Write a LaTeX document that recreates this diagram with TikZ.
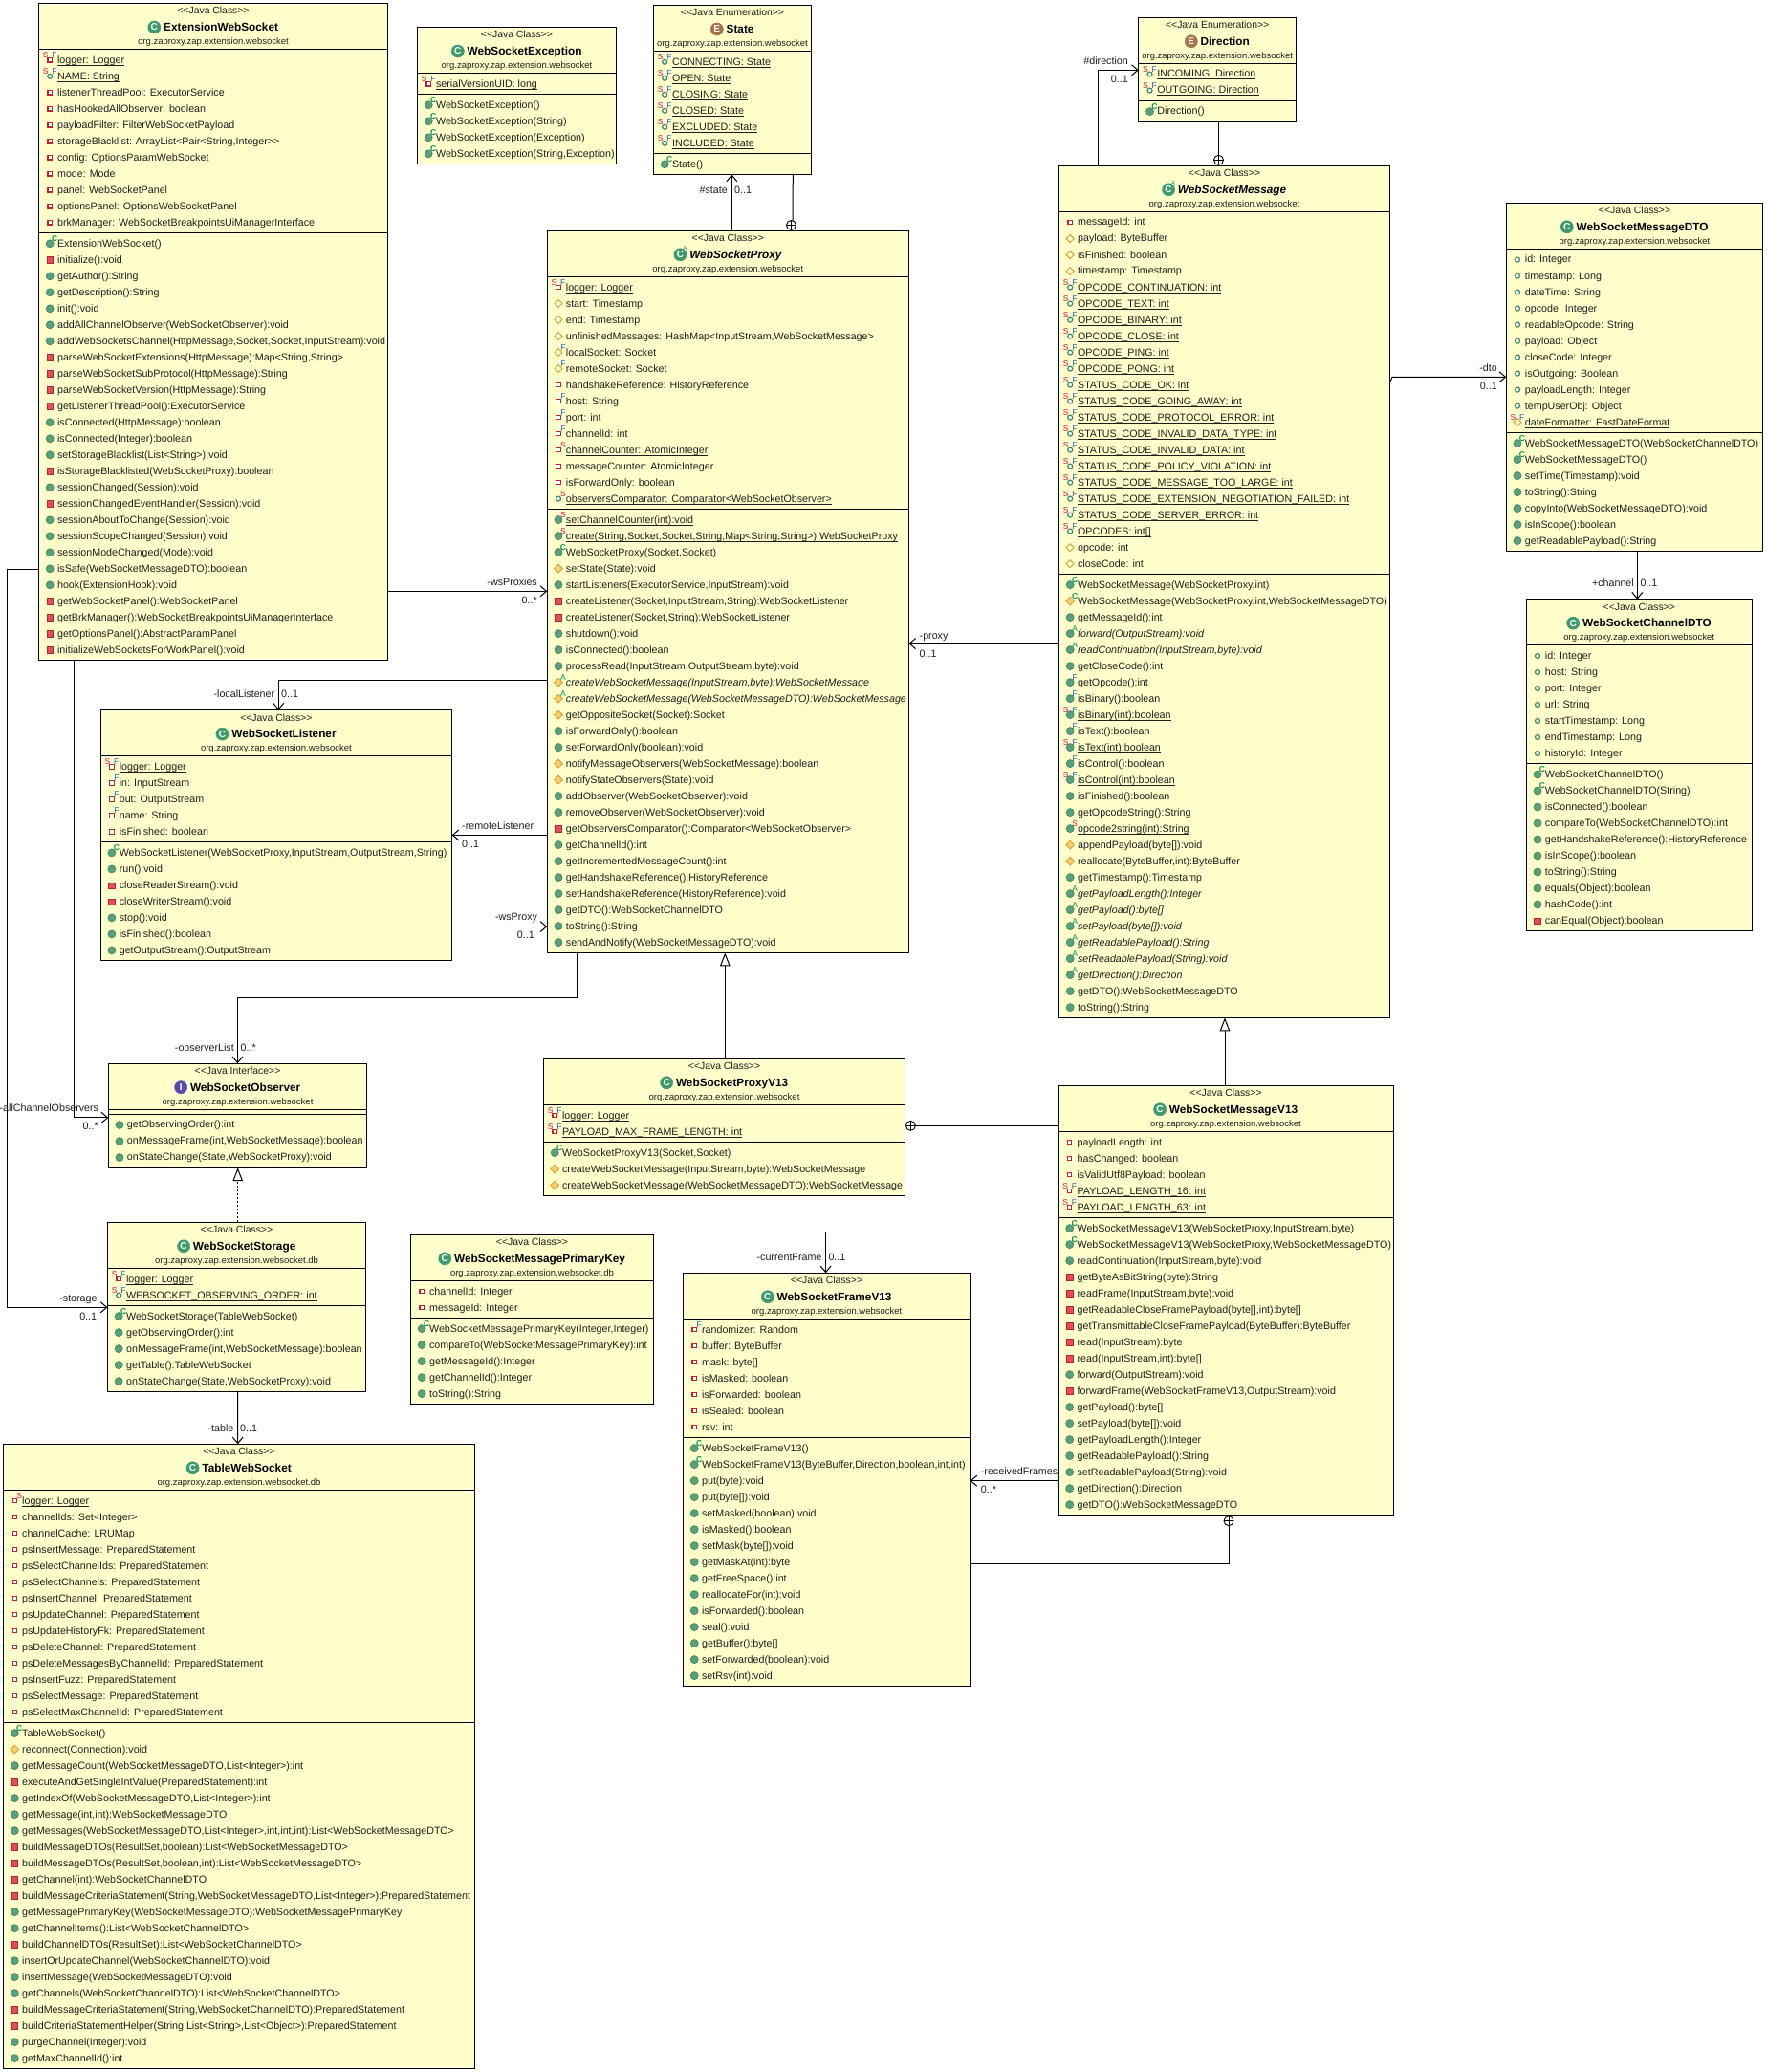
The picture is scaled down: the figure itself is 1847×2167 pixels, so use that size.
\documentclass[tikz,border=0pt]{standalone}
\usepackage{fontspec}
\newfontfamily\umlfont{Liberation Sans}
\usetikzlibrary{arrows.meta}
\definecolor{boxbg}{HTML}{FFFFCB}
\definecolor{inktxt}{HTML}{1E1E1E}
\definecolor{mgreen}{HTML}{5AA07C}
\definecolor{mgreend}{HTML}{3A8A66}
\definecolor{mred}{HTML}{E0505A}
\definecolor{mredd}{HTML}{C02035}
\definecolor{morange}{HTML}{F5CF70}
\definecolor{morangd}{HTML}{D8A030}
\definecolor{dgreen}{HTML}{00905A}
\definecolor{dblue}{HTML}{2060C0}
\definecolor{dred}{HTML}{D01050}
\definecolor{icbrown}{HTML}{A9714A}
\definecolor{icpurple}{HTML}{5A4AB0}
\definecolor{icgreen}{HTML}{3F9A70}
\tikzset{
  classbox/.style={draw=black,fill=boxbg,line width=1pt,inner sep=0pt,outer sep=0pt,anchor=north west,rectangle},
  sepline/.style={draw=black,line width=1pt},
  rowtxt/.style={inner sep=0pt,outer sep=0pt,anchor=base west,text=inktxt,font=\umlfont\fontsize{10.7pt}{12pt}\selectfont},
  stereotxt/.style={inner sep=0pt,anchor=base,text=inktxt,font=\umlfont\fontsize{10.4pt}{12pt}\selectfont},
  titletxt/.style={inner sep=0pt,anchor=base,text=black,font=\umlfont\bfseries\fontsize{11.8pt}{13pt}\selectfont},
  pkgtxt/.style={inner sep=0pt,anchor=base,text=inktxt,font=\umlfont\fontsize{9.5pt}{11pt}\selectfont},
  deco/.style={inner sep=0pt,anchor=center,font=\umlfont\fontsize{8.5pt}{9pt}\selectfont},
  icl/.style={inner sep=0pt,anchor=center,text=white,font=\umlfont\bfseries\fontsize{10pt}{10pt}\selectfont},
  lbe/.style={inner sep=0pt,anchor=base east,text=inktxt,font=\umlfont\fontsize{10.7pt}{12pt}\selectfont},
  lbw/.style={inner sep=0pt,anchor=base west,text=inktxt,font=\umlfont\fontsize{10.7pt}{12pt}\selectfont},
  assoc/.style={draw=black,line width=1pt,-{Straight Barb[length=6.5pt,width=11pt,line width=1pt]}},
  plainc/.style={draw=black,line width=1pt},
  gener/.style={draw=black,line width=1pt,-{Triangle[open,length=14pt,width=10.5pt,fill=white,line width=1pt]}},
  realiz/.style={draw=black,line width=.8pt,dash pattern=on 2pt off 2pt,-{Triangle[open,length=14pt,width=10.5pt,fill=white,line width=1pt]}},
  nestc/.style={circle,draw=black,fill=white,line width=.9pt,minimum size=10pt,inner sep=0pt,outer sep=0pt},
}
\newcount\nnc
\newcommand\ulx[1]{\setbox0=\hbox{#1}\rlap{\rule[-2.4pt]{\wd0}{.9pt}}\box0 }
% field / method icons
\newcommand\icfr{\filldraw[draw=mredd,fill=white,line width=1.1pt] (\ix-2.2,\iy-2.2) rectangle (\ix+2.2,\iy+2.2);}
\newcommand\icfg{\filldraw[draw=mgreend,fill=white,line width=1.2pt] (\ix,\iy) circle[radius=2.5pt];}
\newcommand\icfo{\filldraw[draw=morangd,fill=boxbg,line width=.9pt] (\ix-4,\iy) -- (\ix,\iy-4) -- (\ix+4,\iy) -- (\ix,\iy+4) -- cycle;}
\newcommand\icmg{\filldraw[draw=mgreend,fill=mgreen,line width=.7pt] (\ix,\iy) circle[radius=4pt];}
\newcommand\icmr{\filldraw[draw=mredd,fill=mred,line width=.8pt] (\ix-3.2,\iy-3) rectangle (\ix+3.2,\iy+3.4);}
\newcommand\icmo{\filldraw[draw=morangd,fill=morange,line width=.8pt] (\ix-4.4,\iy) -- (\ix,\iy-4.4) -- (\ix+4.4,\iy) -- (\ix,\iy+4.4) -- cycle;}
\newcommand\dclet[4]{\global\advance\nnc 1 \node[deco,text=#3] (dc\the\nnc) at (\ix+#1,\iy+#2) {#4};}
\newcommand\dcn{}
\newcommand\dcS{\dclet{5}{-5}{dred}{S}}
\newcommand\dcF{\dclet{5}{-5.5}{dblue}{F}}
\newcommand\dcSF{\dclet{-4.5}{-5.5}{dred}{S}\dclet{4.7}{-5.5}{dblue}{F}}
\newcommand\dcC{\dclet{5}{-5.5}{dgreen}{\bfseries C}}
\newcommand\dcA{\dclet{5}{-5.5}{dgreen}{A}}
\newcommand\txn[1]{#1}
\newcommand\txC[1]{#1}
\newcommand\txF[1]{#1}
\newcommand\txS[1]{\ulx{#1}}
\newcommand\txSF[1]{\ulx{#1}}
\newcommand\txA[1]{{\itshape #1}}
\newcommand\umlbox[6]{%
  \edef\curid{#1}%
  \pgfmathsetmacro\curx{#2}\pgfmathsetmacro\cury{#3}\pgfmathsetmacro\curw{#4}%
  \pgfmathsetmacro\boxh{58+(#5+#6)*17}%
  \node[classbox,minimum width=#4pt,minimum height=\boxh pt] (#1) at (#2,#3) {};}
\newcommand\umlhead[4]{%
  \pgfmathsetmacro\cx{\curx+\curw/2}%
  \node[stereotxt] (\curid-s) at (\cx,\cury+11.4) {<{}<#1>{}>};
  \node[titletxt] (\curid-t) at (\cx,\cury+29) {\hspace*{16.2pt}\csname tt#2\endcsname{#3}};
  \begin{scope}[shift={(\curid-t.base west)}]
    \csname cl#2\endcsname
  \end{scope}
  \node[pkgtxt] (\curid-p) at (\cx,\cury+43) {#4};
  \draw[sepline] (\curx,\cury+48) -- (\curx+\curw,\cury+48);
  \pgfmathsetmacro\rowY{\cury+58.5}}
\newcommand\ttC[1]{#1}
\newcommand\ttE[1]{#1}
\newcommand\ttI[1]{#1}
\newcommand\ttCA[1]{{\itshape #1}}
\newcommand\clbub[2]{\filldraw[draw=#1,fill=#1,line width=.4pt] (6.5,-4) circle[radius=6.6pt];
  \global\advance\nnc 1 \node[icl] (ic\the\nnc) at (6.5,-4) {#2};}
\newcommand\clC{\clbub{icgreen}{C}}
\newcommand\clE{\clbub{icbrown}{E}}
\newcommand\clI{\clbub{icpurple}{I}}
\newcommand\clCA{\clbub{icgreen}{C}\global\advance\nnc 1 \node[deco,text=dgreen,font=\umlfont\fontsize{6pt}{6pt}\selectfont] (ic\the\nnc) at (11.5,-11) {A};}
\newcommand\R[3]{%
  \pgfmathsetmacro\ix{\curx+11.7}\pgfmathsetmacro\iy{\rowY+.8}%
  \csname ic#1\endcsname \csname dc#2\endcsname
  \global\advance\nnc 1
  \node[rowtxt] (r\the\nnc) at (\curx+19.6,\rowY+4.2) {\csname tx#2\endcsname{#3}};
  \pgfmathsetmacro\rowY{\rowY+17}}
\newcommand\Sep{%
  \pgfmathsetmacro\sy{\rowY-5.5}%
  \draw[sepline] (\curx,\sy) -- (\curx+\curw,\sy);
  \pgfmathsetmacro\rowY{\rowY+5}}
\newcommand\labE[3]{\global\advance\nnc 1 \node[lbe] (l\the\nnc) at (#1,#2+4) {#3};}
\newcommand\labW[3]{\global\advance\nnc 1 \node[lbw] (l\the\nnc) at (#1,#2+4) {#3};}
\newcommand\nestmark[3]{\node[nestc] (#1) at (#2,#3) {};
  \draw[line width=.8pt] (#1.north) -- (#1.south) (#1.west) -- (#1.east);}
\begin{document}
\begin{tikzpicture}[x=1pt,y=-1pt]
\useasboundingbox (0,0) rectangle (1847,2167);
\fill[white] (0,0) rectangle (1847,2167);
% ------------------------------ ExtensionWebSocket
\umlbox{ext}{40.5}{3.5}{365}{11}{26}
\umlhead{Java Class}{C}{ExtensionWebSocket}{org.zaproxy.zap.extension.websocket}
\R{fr}{SF}{logger: Logger}
\R{fg}{SF}{NAME: String}
\R{fr}{n}{listenerThreadPool: ExecutorService}
\R{fr}{n}{hasHookedAllObserver: boolean}
\R{fr}{n}{payloadFilter: FilterWebSocketPayload}
\R{fr}{n}{storageBlacklist: ArrayList<Pair<String,Integer>>}
\R{fr}{n}{config: OptionsParamWebSocket}
\R{fr}{n}{mode: Mode}
\R{fr}{n}{panel: WebSocketPanel}
\R{fr}{n}{optionsPanel: OptionsWebSocketPanel}
\R{fr}{n}{brkManager: WebSocketBreakpointsUiManagerInterface}
\Sep
\R{mg}{C}{ExtensionWebSocket()}
\R{mr}{n}{initialize():void}
\R{mg}{n}{getAuthor():String}
\R{mg}{n}{getDescription():String}
\R{mg}{n}{init():void}
\R{mg}{n}{addAllChannelObserver(WebSocketObserver):void}
\R{mg}{n}{addWebSocketsChannel(HttpMessage,Socket,Socket,InputStream):void}
\R{mr}{n}{parseWebSocketExtensions(HttpMessage):Map<String,String>}
\R{mr}{n}{parseWebSocketSubProtocol(HttpMessage):String}
\R{mr}{n}{parseWebSocketVersion(HttpMessage):String}
\R{mr}{n}{getListenerThreadPool():ExecutorService}
\R{mg}{n}{isConnected(HttpMessage):boolean}
\R{mg}{n}{isConnected(Integer):boolean}
\R{mg}{n}{setStorageBlacklist(List<String>):void}
\R{mr}{n}{isStorageBlacklisted(WebSocketProxy):boolean}
\R{mg}{n}{sessionChanged(Session):void}
\R{mr}{n}{sessionChangedEventHandler(Session):void}
\R{mg}{n}{sessionAboutToChange(Session):void}
\R{mg}{n}{sessionScopeChanged(Session):void}
\R{mg}{n}{sessionModeChanged(Mode):void}
\R{mg}{n}{isSafe(WebSocketMessageDTO):boolean}
\R{mg}{n}{hook(ExtensionHook):void}
\R{mr}{n}{getWebSocketPanel():WebSocketPanel}
\R{mr}{n}{getBrkManager():WebSocketBreakpointsUiManagerInterface}
\R{mr}{n}{getOptionsPanel():AbstractParamPanel}
\R{mr}{n}{initializeWebSocketsForWorkPanel():void}
% ------------------------------ WebSocketException
\umlbox{exc}{436.5}{28.5}{208}{1}{4}
\umlhead{Java Class}{C}{WebSocketException}{org.zaproxy.zap.extension.websocket}
\R{fr}{SF}{serialVersionUID: long}
\Sep
\R{mg}{C}{WebSocketException()}
\R{mg}{C}{WebSocketException(String)}
\R{mg}{C}{WebSocketException(Exception)}
\R{mg}{C}{WebSocketException(String,Exception)}
% ------------------------------ State
\umlbox{state}{683.5}{5.5}{165}{6}{1}
\umlhead{Java Enumeration}{E}{State}{org.zaproxy.zap.extension.websocket}
\R{fg}{SF}{CONNECTING: State}
\R{fg}{SF}{OPEN: State}
\R{fg}{SF}{CLOSING: State}
\R{fg}{SF}{CLOSED: State}
\R{fg}{SF}{EXCLUDED: State}
\R{fg}{SF}{INCLUDED: State}
\Sep
\R{mg}{C}{State()}
% ------------------------------ Direction
\umlbox{dir}{1190.8}{18.3}{164.7}{2}{1}
\umlhead{Java Enumeration}{E}{Direction}{org.zaproxy.zap.extension.websocket}
\R{fg}{SF}{INCOMING: Direction}
\R{fg}{SF}{OUTGOING: Direction}
\Sep
\R{mg}{C}{Direction()}
% ------------------------------ WebSocketProxy
\umlbox{proxy}{572.3}{241.3}{378}{14}{27}
\umlhead{Java Class}{CA}{WebSocketProxy}{org.zaproxy.zap.extension.websocket}
\R{fr}{SF}{logger: Logger}
\R{fo}{n}{start: Timestamp}
\R{fo}{n}{end: Timestamp}
\R{fo}{n}{unfinishedMessages: HashMap<InputStream,WebSocketMessage>}
\R{fo}{F}{localSocket: Socket}
\R{fo}{F}{remoteSocket: Socket}
\R{fr}{n}{handshakeReference: HistoryReference}
\R{fr}{F}{host: String}
\R{fr}{F}{port: int}
\R{fr}{F}{channelId: int}
\R{fr}{S}{channelCounter: AtomicInteger}
\R{fr}{n}{messageCounter: AtomicInteger}
\R{fr}{n}{isForwardOnly: boolean}
\R{fg}{S}{observersComparator: Comparator<WebSocketObserver>}
\Sep
\R{mg}{S}{setChannelCounter(int):void}
\R{mg}{S}{create(String,Socket,Socket,String,Map<String,String>):WebSocketProxy}
\R{mg}{C}{WebSocketProxy(Socket,Socket)}
\R{mo}{n}{setState(State):void}
\R{mg}{n}{startListeners(ExecutorService,InputStream):void}
\R{mr}{n}{createListener(Socket,InputStream,String):WebSocketListener}
\R{mr}{n}{createListener(Socket,String):WebSocketListener}
\R{mg}{n}{shutdown():void}
\R{mg}{n}{isConnected():boolean}
\R{mg}{n}{processRead(InputStream,OutputStream,byte):void}
\R{mo}{A}{createWebSocketMessage(InputStream,byte):WebSocketMessage}
\R{mo}{A}{createWebSocketMessage(WebSocketMessageDTO):WebSocketMessage}
\R{mo}{n}{getOppositeSocket(Socket):Socket}
\R{mg}{n}{isForwardOnly():boolean}
\R{mg}{n}{setForwardOnly(boolean):void}
\R{mo}{n}{notifyMessageObservers(WebSocketMessage):boolean}
\R{mo}{n}{notifyStateObservers(State):void}
\R{mg}{n}{addObserver(WebSocketObserver):void}
\R{mg}{n}{removeObserver(WebSocketObserver):void}
\R{mr}{n}{getObserversComparator():Comparator<WebSocketObserver>}
\R{mg}{n}{getChannelId():int}
\R{mg}{n}{getIncrementedMessageCount():int}
\R{mg}{n}{getHandshakeReference():HistoryReference}
\R{mg}{n}{setHandshakeReference(HistoryReference):void}
\R{mg}{n}{getDTO():WebSocketChannelDTO}
\R{mg}{n}{toString():String}
\R{mg}{n}{sendAndNotify(WebSocketMessageDTO):void}
% ------------------------------ WebSocketMessage
\umlbox{msg}{1107.5}{173.3}{346}{22}{27}
\umlhead{Java Class}{CA}{WebSocketMessage}{org.zaproxy.zap.extension.websocket}
\R{fr}{n}{messageId: int}
\R{fo}{n}{payload: ByteBuffer}
\R{fo}{n}{isFinished: boolean}
\R{fo}{n}{timestamp: Timestamp}
\R{fg}{SF}{OPCODE\_CONTINUATION: int}
\R{fg}{SF}{OPCODE\_TEXT: int}
\R{fg}{SF}{OPCODE\_BINARY: int}
\R{fg}{SF}{OPCODE\_CLOSE: int}
\R{fg}{SF}{OPCODE\_PING: int}
\R{fg}{SF}{OPCODE\_PONG: int}
\R{fg}{SF}{STATUS\_CODE\_OK: int}
\R{fg}{SF}{STATUS\_CODE\_GOING\_AWAY: int}
\R{fg}{SF}{STATUS\_CODE\_PROTOCOL\_ERROR: int}
\R{fg}{SF}{STATUS\_CODE\_INVALID\_DATA\_TYPE: int}
\R{fg}{SF}{STATUS\_CODE\_INVALID\_DATA: int}
\R{fg}{SF}{STATUS\_CODE\_POLICY\_VIOLATION: int}
\R{fg}{SF}{STATUS\_CODE\_MESSAGE\_TOO\_LARGE: int}
\R{fg}{SF}{STATUS\_CODE\_EXTENSION\_NEGOTIATION\_FAILED: int}
\R{fg}{SF}{STATUS\_CODE\_SERVER\_ERROR: int}
\R{fg}{SF}{OPCODES: int[]}
\R{fo}{n}{opcode: int}
\R{fo}{n}{closeCode: int}
\Sep
\R{mg}{C}{WebSocketMessage(WebSocketProxy,int)}
\R{mo}{C}{WebSocketMessage(WebSocketProxy,int,WebSocketMessageDTO)}
\R{mg}{n}{getMessageId():int}
\R{mg}{A}{forward(OutputStream):void}
\R{mg}{A}{readContinuation(InputStream,byte):void}
\R{mg}{n}{getCloseCode():int}
\R{mg}{F}{getOpcode():int}
\R{mg}{F}{isBinary():boolean}
\R{mg}{SF}{isBinary(int):boolean}
\R{mg}{F}{isText():boolean}
\R{mg}{SF}{isText(int):boolean}
\R{mg}{F}{isControl():boolean}
\R{mg}{SF}{isControl(int):boolean}
\R{mg}{n}{isFinished():boolean}
\R{mg}{n}{getOpcodeString():String}
\R{mg}{S}{opcode2string(int):String}
\R{mo}{n}{appendPayload(byte[]):void}
\R{mo}{n}{reallocate(ByteBuffer,int):ByteBuffer}
\R{mg}{n}{getTimestamp():Timestamp}
\R{mg}{A}{getPayloadLength():Integer}
\R{mg}{A}{getPayload():byte[]}
\R{mg}{A}{setPayload(byte[]):void}
\R{mg}{A}{getReadablePayload():String}
\R{mg}{A}{setReadablePayload(String):void}
\R{mg}{A}{getDirection():Direction}
\R{mg}{n}{getDTO():WebSocketMessageDTO}
\R{mg}{n}{toString():String}
% ------------------------------ WebSocketMessageDTO
\umlbox{dto}{1575.3}{212.3}{268.4}{11}{7}
\umlhead{Java Class}{C}{WebSocketMessageDTO}{org.zaproxy.zap.extension.websocket}
\R{fg}{n}{id: Integer}
\R{fg}{n}{timestamp: Long}
\R{fg}{n}{dateTime: String}
\R{fg}{n}{opcode: Integer}
\R{fg}{n}{readableOpcode: String}
\R{fg}{n}{payload: Object}
\R{fg}{n}{closeCode: Integer}
\R{fg}{n}{isOutgoing: Boolean}
\R{fg}{n}{payloadLength: Integer}
\R{fg}{n}{tempUserObj: Object}
\R{fo}{SF}{dateFormatter: FastDateFormat}
\Sep
\R{mg}{C}{WebSocketMessageDTO(WebSocketChannelDTO)}
\R{mg}{C}{WebSocketMessageDTO()}
\R{mg}{n}{setTime(Timestamp):void}
\R{mg}{n}{toString():String}
\R{mg}{n}{copyInto(WebSocketMessageDTO):void}
\R{mg}{n}{isInScope():boolean}
\R{mg}{n}{getReadablePayload():String}
% ------------------------------ WebSocketChannelDTO
\umlbox{chan}{1596.3}{626.7}{236}{7}{10}
\umlhead{Java Class}{C}{WebSocketChannelDTO}{org.zaproxy.zap.extension.websocket}
\R{fg}{n}{id: Integer}
\R{fg}{n}{host: String}
\R{fg}{n}{port: Integer}
\R{fg}{n}{url: String}
\R{fg}{n}{startTimestamp: Long}
\R{fg}{n}{endTimestamp: Long}
\R{fg}{n}{historyId: Integer}
\Sep
\R{mg}{C}{WebSocketChannelDTO()}
\R{mg}{C}{WebSocketChannelDTO(String)}
\R{mg}{n}{isConnected():boolean}
\R{mg}{n}{compareTo(WebSocketChannelDTO):int}
\R{mg}{n}{getHandshakeReference():HistoryReference}
\R{mg}{n}{isInScope():boolean}
\R{mg}{n}{toString():String}
\R{mg}{n}{equals(Object):boolean}
\R{mg}{n}{hashCode():int}
\R{mr}{n}{canEqual(Object):boolean}
% ------------------------------ WebSocketListener
\umlbox{listener}{105.2}{742.6}{367.4}{5}{7}
\umlhead{Java Class}{C}{WebSocketListener}{org.zaproxy.zap.extension.websocket}
\R{fr}{SF}{logger: Logger}
\R{fr}{F}{in: InputStream}
\R{fr}{F}{out: OutputStream}
\R{fr}{F}{name: String}
\R{fr}{n}{isFinished: boolean}
\Sep
\R{mg}{C}{WebSocketListener(WebSocketProxy,InputStream,OutputStream,String)}
\R{mg}{n}{run():void}
\R{mr}{n}{closeReaderStream():void}
\R{mr}{n}{closeWriterStream():void}
\R{mg}{n}{stop():void}
\R{mg}{n}{isFinished():boolean}
\R{mg}{n}{getOutputStream():OutputStream}
% ------------------------------ WebSocketObserver
\umlbox{observer}{113.3}{1112.2}{270.5}{0}{3}
\umlhead{Java Interface}{I}{WebSocketObserver}{org.zaproxy.zap.extension.websocket}
\Sep
\R{mg}{n}{getObservingOrder():int}
\R{mg}{n}{onMessageFrame(int,WebSocketMessage):boolean}
\R{mg}{n}{onStateChange(State,WebSocketProxy):void}
% ------------------------------ WebSocketStorage
\umlbox{storage}{112.5}{1278.3}{270.1}{2}{5}
\umlhead{Java Class}{C}{WebSocketStorage}{org.zaproxy.zap.extension.websocket.db}
\R{fr}{SF}{logger: Logger}
\R{fg}{SF}{WEBSOCKET\_OBSERVING\_ORDER: int}
\Sep
\R{mg}{C}{WebSocketStorage(TableWebSocket)}
\R{mg}{n}{getObservingOrder():int}
\R{mg}{n}{onMessageFrame(int,WebSocketMessage):boolean}
\R{mg}{n}{getTable():TableWebSocket}
\R{mg}{n}{onStateChange(State,WebSocketProxy):void}
% ------------------------------ WebSocketMessagePrimaryKey
\umlbox{pk}{429.5}{1291.3}{254}{2}{5}
\umlhead{Java Class}{C}{WebSocketMessagePrimaryKey}{org.zaproxy.zap.extension.websocket.db}
\R{fr}{n}{channelId: Integer}
\R{fr}{n}{messageId: Integer}
\Sep
\R{mg}{C}{WebSocketMessagePrimaryKey(Integer,Integer)}
\R{mg}{n}{compareTo(WebSocketMessagePrimaryKey):int}
\R{mg}{n}{getMessageId():Integer}
\R{mg}{n}{getChannelId():Integer}
\R{mg}{n}{toString():String}
% ------------------------------ TableWebSocket
\umlbox{table}{3.6}{1510.3}{492.8}{14}{21}
\umlhead{Java Class}{C}{TableWebSocket}{org.zaproxy.zap.extension.websocket.db}
\R{fr}{S}{logger: Logger}
\R{fr}{n}{channelIds: Set<Integer>}
\R{fr}{n}{channelCache: LRUMap}
\R{fr}{n}{psInsertMessage: PreparedStatement}
\R{fr}{n}{psSelectChannelIds: PreparedStatement}
\R{fr}{n}{psSelectChannels: PreparedStatement}
\R{fr}{n}{psInsertChannel: PreparedStatement}
\R{fr}{n}{psUpdateChannel: PreparedStatement}
\R{fr}{n}{psUpdateHistoryFk: PreparedStatement}
\R{fr}{n}{psDeleteChannel: PreparedStatement}
\R{fr}{n}{psDeleteMessagesByChannelId: PreparedStatement}
\R{fr}{n}{psInsertFuzz: PreparedStatement}
\R{fr}{n}{psSelectMessage: PreparedStatement}
\R{fr}{n}{psSelectMaxChannelId: PreparedStatement}
\Sep
\R{mg}{C}{TableWebSocket()}
\R{mo}{n}{reconnect(Connection):void}
\R{mg}{n}{getMessageCount(WebSocketMessageDTO,List<Integer>):int}
\R{mr}{n}{executeAndGetSingleIntValue(PreparedStatement):int}
\R{mg}{n}{getIndexOf(WebSocketMessageDTO,List<Integer>):int}
\R{mg}{n}{getMessage(int,int):WebSocketMessageDTO}
\R{mg}{n}{getMessages(WebSocketMessageDTO,List<Integer>,int,int,int):List<WebSocketMessageDTO>}
\R{mr}{n}{buildMessageDTOs(ResultSet,boolean):List<WebSocketMessageDTO>}
\R{mr}{n}{buildMessageDTOs(ResultSet,boolean,int):List<WebSocketMessageDTO>}
\R{mr}{n}{getChannel(int):WebSocketChannelDTO}
\R{mr}{n}{buildMessageCriteriaStatement(String,WebSocketMessageDTO,List<Integer>):PreparedStatement}
\R{mg}{n}{getMessagePrimaryKey(WebSocketMessageDTO):WebSocketMessagePrimaryKey}
\R{mg}{n}{getChannelItems():List<WebSocketChannelDTO>}
\R{mr}{n}{buildChannelDTOs(ResultSet):List<WebSocketChannelDTO>}
\R{mg}{n}{insertOrUpdateChannel(WebSocketChannelDTO):void}
\R{mg}{n}{insertMessage(WebSocketMessageDTO):void}
\R{mg}{n}{getChannels(WebSocketChannelDTO):List<WebSocketChannelDTO>}
\R{mr}{n}{buildMessageCriteriaStatement(String,WebSocketChannelDTO):PreparedStatement}
\R{mr}{n}{buildCriteriaStatementHelper(String,List<String>,List<Object>):PreparedStatement}
\R{mg}{n}{purgeChannel(Integer):void}
\R{mg}{n}{getMaxChannelId():int}
% ------------------------------ WebSocketProxyV13
\umlbox{proxyv}{568.5}{1107.3}{378.1}{2}{3}
\umlhead{Java Class}{C}{WebSocketProxyV13}{org.zaproxy.zap.extension.websocket}
\R{fr}{SF}{logger: Logger}
\R{fr}{SF}{PAYLOAD\_MAX\_FRAME\_LENGTH: int}
\Sep
\R{mg}{C}{WebSocketProxyV13(Socket,Socket)}
\R{mo}{n}{createWebSocketMessage(InputStream,byte):WebSocketMessage}
\R{mo}{n}{createWebSocketMessage(WebSocketMessageDTO):WebSocketMessage}
% ------------------------------ WebSocketMessageV13
\umlbox{v13}{1107}{1135.3}{350}{5}{18}
\umlhead{Java Class}{C}{WebSocketMessageV13}{org.zaproxy.zap.extension.websocket}
\R{fr}{n}{payloadLength: int}
\R{fr}{n}{hasChanged: boolean}
\R{fr}{n}{isValidUtf8Payload: boolean}
\R{fr}{SF}{PAYLOAD\_LENGTH\_16: int}
\R{fr}{SF}{PAYLOAD\_LENGTH\_63: int}
\Sep
\R{mg}{C}{WebSocketMessageV13(WebSocketProxy,InputStream,byte)}
\R{mg}{C}{WebSocketMessageV13(WebSocketProxy,WebSocketMessageDTO)}
\R{mg}{n}{readContinuation(InputStream,byte):void}
\R{mr}{n}{getByteAsBitString(byte):String}
\R{mr}{n}{readFrame(InputStream,byte):void}
\R{mr}{n}{getReadableCloseFramePayload(byte[],int):byte[]}
\R{mr}{n}{getTransmittableCloseFramePayload(ByteBuffer):ByteBuffer}
\R{mr}{n}{read(InputStream):byte}
\R{mr}{n}{read(InputStream,int):byte[]}
\R{mg}{n}{forward(OutputStream):void}
\R{mr}{n}{forwardFrame(WebSocketFrameV13,OutputStream):void}
\R{mg}{n}{getPayload():byte[]}
\R{mg}{n}{setPayload(byte[]):void}
\R{mg}{n}{getPayloadLength():Integer}
\R{mg}{n}{getReadablePayload():String}
\R{mg}{n}{setReadablePayload(String):void}
\R{mg}{n}{getDirection():Direction}
\R{mg}{n}{getDTO():WebSocketMessageDTO}
% ------------------------------ WebSocketFrameV13
\umlbox{frame}{714.5}{1331.3}{300}{7}{15}
\umlhead{Java Class}{C}{WebSocketFrameV13}{org.zaproxy.zap.extension.websocket}
\R{fr}{F}{randomizer: Random}
\R{fr}{n}{buffer: ByteBuffer}
\R{fr}{n}{mask: byte[]}
\R{fr}{n}{isMasked: boolean}
\R{fr}{n}{isForwarded: boolean}
\R{fr}{n}{isSealed: boolean}
\R{fr}{n}{rsv: int}
\Sep
\R{mg}{C}{WebSocketFrameV13()}
\R{mg}{C}{WebSocketFrameV13(ByteBuffer,Direction,boolean,int,int)}
\R{mg}{n}{put(byte):void}
\R{mg}{n}{put(byte[]):void}
\R{mg}{n}{setMasked(boolean):void}
\R{mg}{n}{isMasked():boolean}
\R{mg}{n}{setMask(byte[]):void}
\R{mg}{n}{getMaskAt(int):byte}
\R{mg}{n}{getFreeSpace():int}
\R{mg}{n}{reallocateFor(int):void}
\R{mg}{n}{isForwarded():boolean}
\R{mg}{n}{seal():void}
\R{mg}{n}{getBuffer():byte[]}
\R{mg}{n}{setForwarded(boolean):void}
\R{mg}{n}{setRsv(int):void}
% ------------------------------ nesting marks
\nestmark{nestA}{827.5}{235.5}
\nestmark{nestB}{1274.5}{167.3}
\nestmark{nestC}{952.4}{1177.3}
\nestmark{nestD}{1285}{1590.7}
% ------------------------------ connectors
\draw[assoc] ([shift={(193,0)}]proxy.north west) -- ([shift={(81.8,0)}]state.south west);
\draw[plainc] ([shift={(145.8,0)}]state.south west) -- ([xshift=1.5pt]nestA.north);
\draw[plainc] ([shift={(83.7,0)}]dir.south west) -- (nestB.north);
\draw[assoc] ([shift={(41.3,0)}]msg.north west) |- ([shift={(0,55)}]dir.north west);
\draw[assoc] ([shift={(0,226.7)}]msg.north east) -- ++(2.5,-5.7) -- ([shift={(0,182)}]dto.north west);
\draw[assoc] ([shift={(137,0)}]dto.south west) -- ([shift={(116,0)}]chan.north west);
\draw[assoc] ([shift={(0,499.8)}]msg.north west) -- ([shift={(0,431.8)}]proxy.north east);
\draw[assoc] ([shift={(0,614.8)}]ext.north east) -- ([shift={(0,377)}]proxy.north west);
\draw[assoc] ([shift={(0,591.8)}]ext.north west) -- ++(-33.2,0) |- ([shift={(0,89)}]storage.north west);
\draw[assoc] ([shift={(37.2,0)}]ext.south west) |- ([shift={(0,56.7)}]observer.north west);
\draw[assoc] ([shift={(0,470.3)}]proxy.north west) -| ([shift={(186,0)}]listener.north west);
\draw[assoc] ([shift={(0,632.1)}]proxy.north west) -- ([shift={(0,130.8)}]listener.north east);
\draw[assoc] ([shift={(0,226.5)}]listener.north east) -- ([shift={(0,727.8)}]proxy.north west);
\draw[assoc] ([shift={(31,0)}]proxy.south west) -- ++(0,47.1) -| ([shift={(135.1,0)}]observer.north west);
\draw[gener] ([shift={(189.8,0)}]proxyv.north west) -- ([shift={(186,0)}]proxy.south west);
\draw[gener] ([shift={(174,0)}]v13.north west) -- ([shift={(173.5,0)}]msg.south west);
\draw[plainc] ([shift={(0,42)}]v13.north west) -- (nestC.east);
\draw[assoc] ([shift={(0,153)}]v13.north west) -| ([shift={(149.1,0)}]frame.north west);
\draw[assoc] ([shift={(0,413.4)}]v13.north west) -- ([shift={(0,217.4)}]frame.north east);
\draw[plainc] ([shift={(0,303.7)}]frame.north east) -| (nestD.south);
\draw[realiz] ([shift={(136.2,0)}]storage.north west) -- ([shift={(135.4,0)}]observer.south west);
\draw[assoc] ([shift={(136.2,0)}]storage.south west) -- ([shift={(245.1,0)}]table.north west);
% ------------------------------ connector labels
\labE{761}{199}{\#state}\labW{768}{199}{0..1}
\labE{1180}{63.3}{\#direction}\labE{1180}{82.3}{0..1}
\labE{1566}{384.3}{-dto}\labE{1566}{403.3}{0..1}
\labE{1709}{609.6}{+channel}\labW{1715.3}{609.6}{0..1}
\labW{961.5}{664.5}{-proxy}\labW{961.5}{683}{0..1}
\labE{562}{608.3}{-wsProxies}\labE{562}{627.3}{0..*}
\labE{101.8}{1357.3}{-storage}\labE{101.3}{1376.3}{0..1}
\labE{103.3}{1158}{-allChannelObservers}\labE{103}{1177.3}{0..*}
\labE{287.4}{725.3}{-localListener}\labW{293.9}{725.3}{0..1}
\labW{483}{863}{-remoteListener}\labW{483}{882.2}{0..1}
\labE{562.2}{958.4}{-wsProxy}\labE{559}{977.2}{0..1}
\labE{245}{1095.4}{-observerList}\labW{251.4}{1095.4}{0..*}
\labE{244.6}{1493.3}{-table}\labW{250.9}{1493.3}{0..1}
\labE{859.6}{1314.3}{-currentFrame}\labW{866.3}{1314.3}{0..1}
\labW{1025.7}{1538.3}{-receivedFrames}\labW{1025.7}{1557.3}{0..*}
\end{tikzpicture}
\end{document}
